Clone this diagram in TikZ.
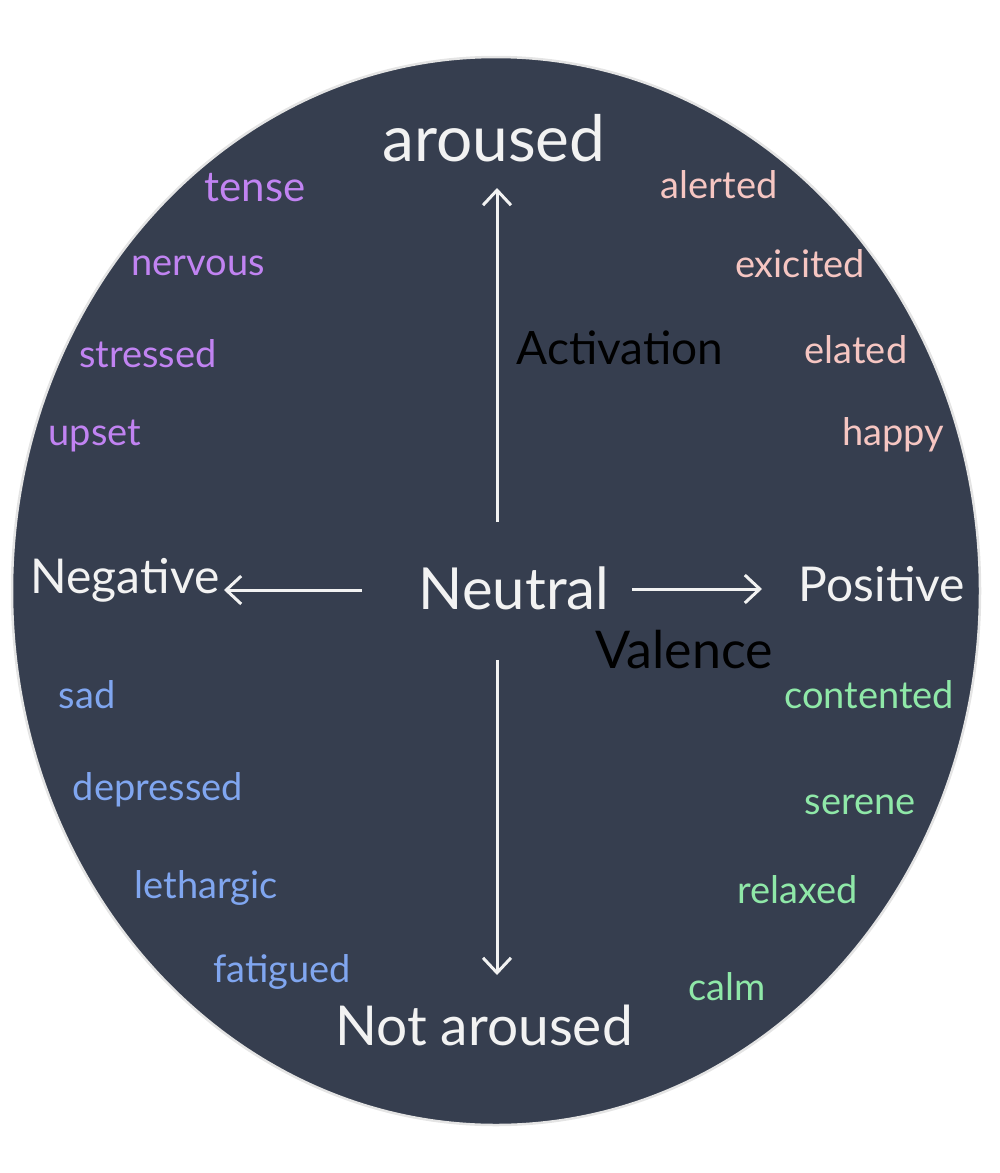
\documentclass[tikz,border=0pt]{standalone}
\usepackage{fontspec}
\setmainfont{Lato}
\usetikzlibrary{arrows.meta}
\definecolor{bgc}{HTML}{363E4F}
\definecolor{rimc}{HTML}{E4E4E4}
\definecolor{txtw}{HTML}{F2F2F2}
\definecolor{purp}{HTML}{C183F2}
\definecolor{pinkc}{HTML}{F6C6C2}
\definecolor{bluec}{HTML}{80A6F0}
\definecolor{greenc}{HTML}{8FE8A8}
\tikzset{
  title/.style={text=txtw, font=\fontsize{48}{54}\selectfont, inner sep=0pt},
  axislabel/.style={text=black, font=\fontsize{46}{52}\selectfont, inner sep=0pt},
  word/.style={font=\fontsize{38}{44}\selectfont, inner sep=0pt},
  axisarrow/.style={draw=txtw, line width=3pt, -{Straight Barb[length=15pt,width=28pt,line width=3pt]}}
}
\begin{document}
\begin{tikzpicture}[x=1pt,y=-1pt]
\useasboundingbox (0,0) rectangle (1000,1173);
\draw[fill=bgc, draw=rimc, line width=2.5pt] (496,591) ellipse [x radius=484, y radius=534];

% titles
\node[title, font=\fontsize{64}{70}\selectfont] (aroused) at (494,138) {aroused};
\node[title] (negative) at (125,580) {Negative};
\node[title, font=\fontsize{58}{64}\selectfont] (neutral) at (514,588) {Neutral};
\node[title] (positive) at (882,584) {Positive};
\node[title, font=\fontsize{55}{60}\selectfont] (notaroused) at (484,1025) {Not aroused};

% axis labels
\node[axislabel] (activation) at (620,348) {Activation};
\node[axislabel, font=\fontsize{52}{58}\selectfont] (valence) at (684,650) {Valence};

% purple
\node[word, text=purp, font=\fontsize{42}{48}\selectfont] (tense) at (255,188) {tense};
\node[word, text=purp] (nervous) at (198,266) {nervous};
\node[word, text=purp] (stressed) at (148,354) {stressed};
\node[word, text=purp] (upset) at (95,436) {upset};
% pink
\node[word, text=pinkc] (alerted) at (719,185) {alerted};
\node[word, text=pinkc] (exicited) at (800,264) {exicited};
\node[word, text=pinkc] (elated) at (856,350) {elated};
\node[word, text=pinkc] (happy) at (893,435) {happy};
% blue
\node[word, text=bluec] (sad) at (87,695) {sad};
\node[word, text=bluec] (depressed) at (158,790) {depressed};
\node[word, text=bluec] (lethargic) at (206,888) {lethargic};
\node[word, text=bluec] (fatigued) at (282,972) {fatigued};
% green
\node[word, text=greenc] (contented) at (869,695) {contented};
\node[word, text=greenc] (serene) at (860,805) {serene};
\node[word, text=greenc] (relaxed) at (798,890) {relaxed};
\node[word, text=greenc] (calm) at (727,987) {calm};

% arrow end points
\coordinate (upS) at (497,522);
\coordinate (upE) at (497,188);
\coordinate (dnS) at (497,660);
\coordinate (dnE) at (497,975);
\coordinate (lfS) at (362,590);
\coordinate (lfE) at (224,590);
\coordinate (rtS) at (632,589);
\coordinate (rtE) at (762,589);

\draw[axisarrow] (upS) -- (upE);
\draw[axisarrow] (dnS) -- (dnE);
\draw[axisarrow] (lfS) -- (lfE);
\draw[axisarrow] (rtS) -- (rtE);
\end{tikzpicture}
\end{document}
